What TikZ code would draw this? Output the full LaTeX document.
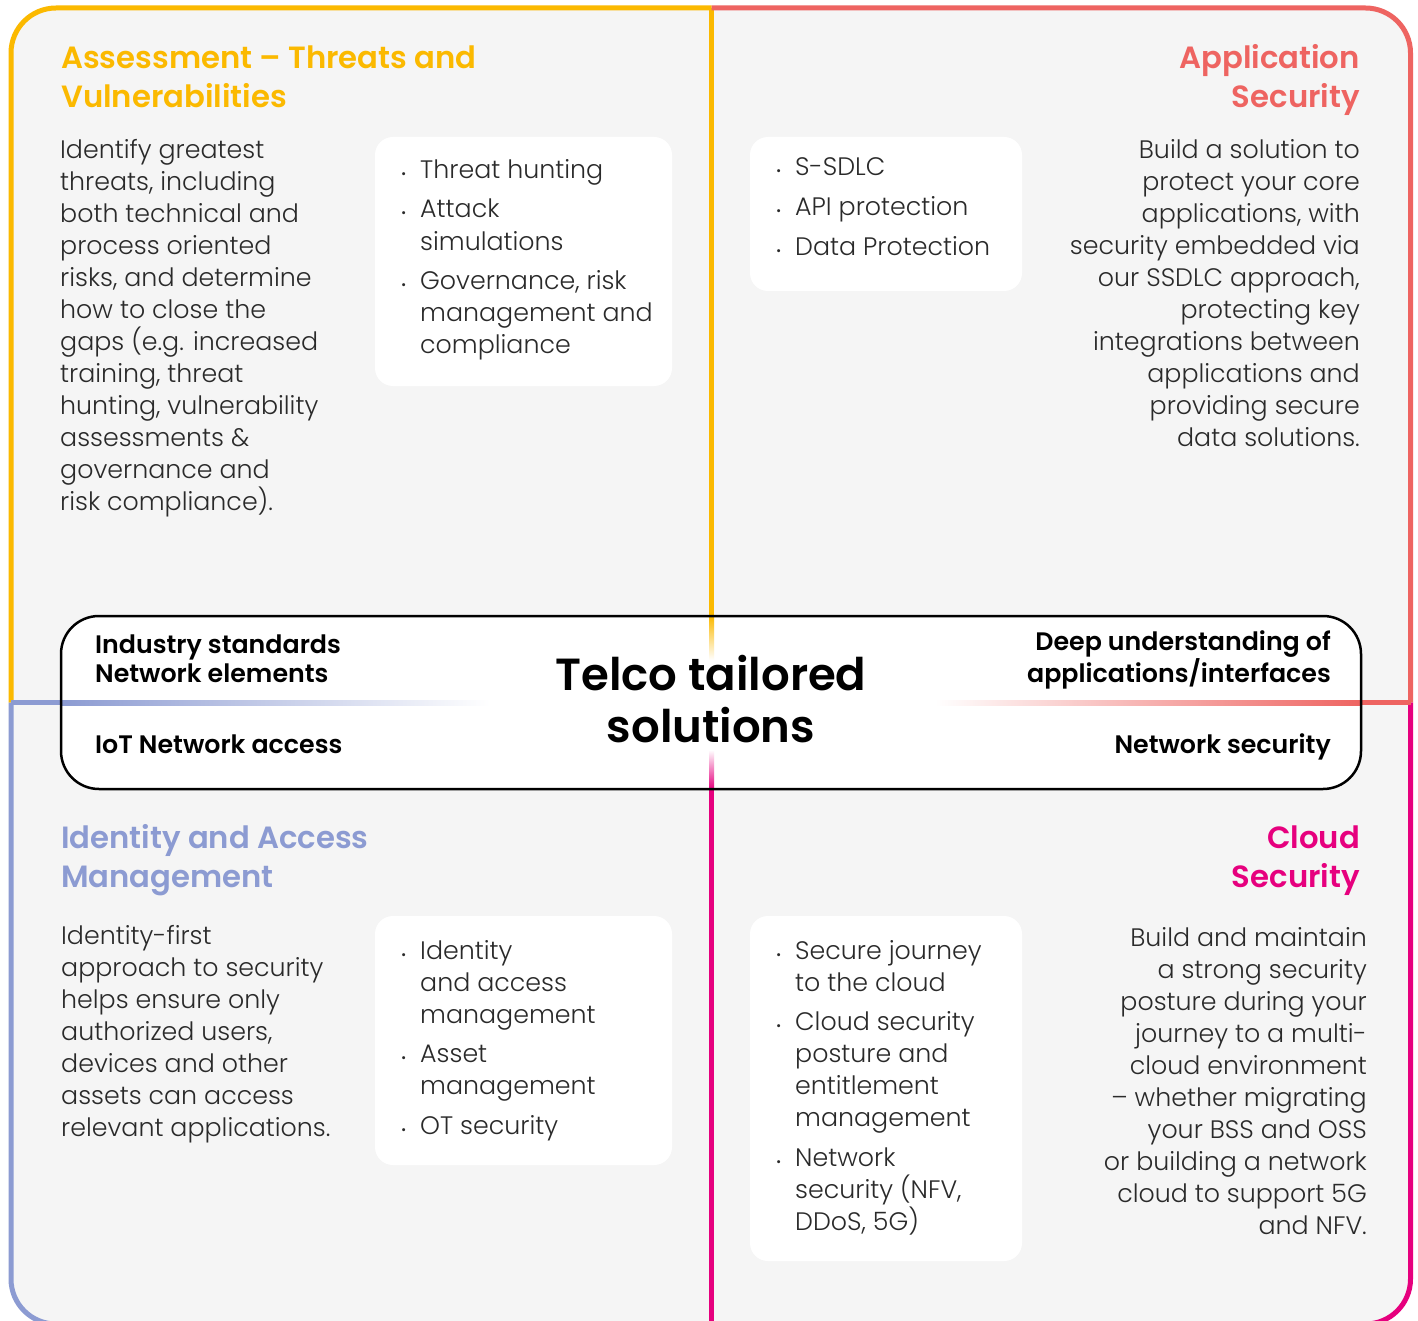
\documentclass[tikz,border=0pt]{standalone}
\usepackage{fontspec}
\setmainfont{Poppins}[UprightFont=* Light, BoldFont=* SemiBold]
\definecolor{corange}{HTML}{FBB900}
\definecolor{cred}{HTML}{EE6461}
\definecolor{cblue}{HTML}{8C9BD2}
\definecolor{cmag}{HTML}{E6007E}
\definecolor{cbg}{HTML}{F5F5F5}
\definecolor{ctext}{HTML}{2A2A2A}
\newcommand{\bul}{\llap{{\fontsize{13}{13}\selectfont\textbullet}\hspace{14pt}}}
\begin{document}
\begin{tikzpicture}[x=1pt,y=-1pt,
  border/.style={line width=5pt},
  body/.style={font=\fontsize{25.3}{32}\selectfont, text=ctext, inner sep=0pt},
  title/.style={font=\fontsize{30.7}{39}\selectfont\bfseries, inner sep=0pt},
  lab/.style={font=\fontsize{25.3}{29}\selectfont\bfseries, text=black, inner sep=0pt},
  wbox/.style={fill=white, rounded corners=18pt}]
\useasboundingbox (0,0) rectangle (1418,1321);
\fill[white] (0,0) rectangle (1418,1321);
\fill[cbg, rounded corners=45pt] (11,8) rectangle (1410.5,1324);
% borders
\draw[border, corange, rounded corners=45pt] (11,702.5) -- (11,8) -- (711.5,8);
\draw[border, corange] (711.5,8) -- (711.5,616);
\draw[border, cred, rounded corners=45pt] (711.5,8) -- (1410.5,8) -- (1410.5,702.5);
\draw[border, cblue, rounded corners=45pt] (11,702.5) -- (11,1324) -- (711.5,1324);
\draw[border, cmag, rounded corners=45pt] (1410.5,702.5) -- (1410.5,1324) -- (711.5,1324);
\draw[border, cmag] (711.5,1324) -- (711.5,789);
% white boxes
\fill[wbox] (375,137) rectangle (672,386);
\fill[wbox] (750,137) rectangle (1022,291);
\fill[wbox] (375,916) rectangle (672,1165);
\fill[wbox] (750,916) rectangle (1022,1261);
% center box
\fill[white, rounded corners=38pt] (61,616) rectangle (1361,789);
\fill[cblue] (11,700) rectangle (61,705);
\shade[left color=cblue, right color=white] (61,700) rectangle (490,705);
\fill[cred] (1361,700) rectangle (1410.5,705);
\shade[left color=white, right color=cred] (935,700) rectangle (1361,705);
\shade[top color=corange, bottom color=white] (709,616) rectangle (714,660);
\shade[top color=white, bottom color=cmag] (709,750) rectangle (714,789);
\draw[line width=2.5pt, black, rounded corners=38pt] (61,616) rectangle (1361,789);
% top-left (anchor base = baseline of last line)
\node[title, text=corange, anchor=base west, align=left] (tlt) at (61,108) {Assessment – Threats and\\Vulnerabilities};
\node[body, anchor=base west, align=left] (tlb) at (60,510) {Identify greatest\\threats, including\\both technical and\\process oriented\\risks, and determine\\how to close the\\gaps (e.g. increased\\training, threat\\hunting, vulnerability\\assessments \&\\governance and\\risk compliance).};
\node[body, anchor=base west, align=left] (tll) at (420,353) {\bul Threat hunting\\[8pt]\bul Attack\\simulations\\[7pt]\bul Governance, risk\\management and\\compliance};
% top-right
\node[title, text=cred, anchor=base east, align=right] (trt) at (1360,108) {Application\\Security};
\node[body, anchor=base east, align=right] (trb) at (1360,446) {Build a solution to\\protect your core\\applications, with\\security embedded via\\our SSDLC approach,\\protecting key\\integrations between\\applications and\\providing secure\\data solutions.};
\node[body, anchor=base west, align=left] (trl) at (795,256) {\bul S-SDLC\\[8pt]\bul API protection\\[8pt]\bul Data Protection};
% bottom-left
\node[title, text=cblue, anchor=base west, align=left] (blt) at (61,887) {Identity and Access\\Management};
\node[body, anchor=base west, align=left] (blb) at (61,1136) {Identity-first\\approach to security\\helps ensure only\\authorized users,\\devices and other\\assets can access\\relevant applications.};
\node[body, anchor=base west, align=left] (bll) at (420,1134) {\bul Identity\\and access\\management\\[7pt]\bul Asset\\management\\[8pt]\bul OT security};
% bottom-right
\node[title, text=cmag, anchor=base east, align=right] (brt) at (1360,887) {Cloud\\Security};
\node[body, anchor=base east, align=right] (brb) at (1367,1234) {Build and maintain\\a strong security\\posture during your\\journey to a multi-\\cloud environment\\– whether migrating\\your BSS and OSS\\or building a network\\cloud to support 5G\\and NFV.};
\node[body, anchor=base west, align=left] (brl) at (795,1230) {\bul Secure journey\\to the cloud\\[7pt]\bul Cloud security\\posture and\\entitlement\\management\\[8pt]\bul Network\\security (NFV,\\DDoS, 5G)};
% center labels
\node[lab, anchor=base west, align=left] (ind) at (95,682) {Industry standards\\Network elements};
\node[lab, anchor=base west] (iot) at (95,753) {IoT Network access};
\node[lab, anchor=base east, align=right] (deep) at (1331,682) {Deep understanding of\\applications/interfaces};
\node[lab, anchor=base east] (netsec) at (1331,753) {Network security};
\node[font=\fontsize{45}{52}\selectfont\bfseries, inner sep=0pt, anchor=base, align=center] (telco) at (711,742) {Telco tailored\\solutions};
\end{tikzpicture}
\end{document}
